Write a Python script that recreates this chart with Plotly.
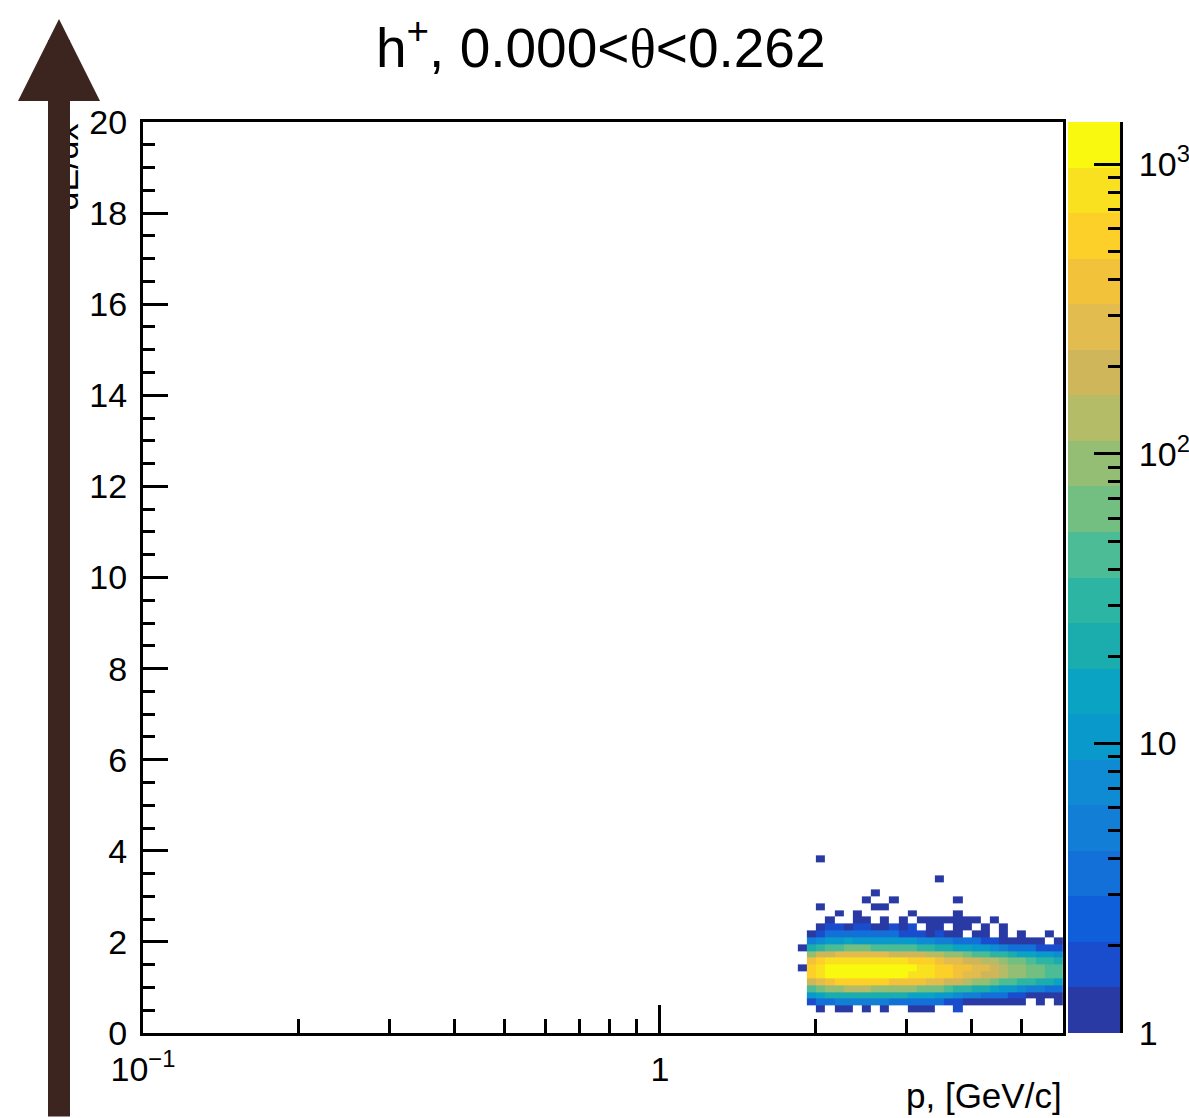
import numpy as np
import plotly.graph_objects as go

# ---------------- data ----------------
# momentum bin edges [GeV/c] (log-spaced histogram bins that carry entries)
p_edges = [1.848, 1.925, 2.005, 2.088, 2.175, 2.265, 2.359, 2.457, 2.559, 2.665,
           2.776, 2.892, 3.012, 3.137, 3.267, 3.403, 3.544, 3.691, 3.845, 4.005,
           4.171, 4.344, 4.525, 4.713, 4.909, 5.112, 5.325, 5.546, 5.777, 6.017]
# dE/dx bin edges
dedx_edges = [0.45, 0.60, 0.75, 0.90, 1.05, 1.20, 1.35, 1.50, 1.65, 1.80, 1.95, 2.10,
              2.25, 2.40, 2.55, 2.70, 2.85, 3.00, 3.15, 3.30, 3.45, 3.60, 3.75, 3.90]

# counts per momentum bin (each list runs over the dE/dx bins, bottom to top)
counts_by_p = [
    [0, 0, 0, 0, 0, 0, 1, 0, 0, 1, 0, 0, 0, 0, 0, 0, 0, 0, 0, 0, 0, 0, 0],
    [0, 2, 10, 47, 209, 522, 550, 341, 105, 22, 5, 1, 0, 0, 0, 0, 0, 0, 0, 0, 0, 0, 0],
    [1, 3, 15, 72, 323, 808, 850, 527, 162, 34, 8, 2, 1, 0, 0, 1, 0, 0, 0, 0, 0, 0, 1],
    [0, 4, 20, 94, 418, 1045, 1100, 682, 209, 44, 10, 3, 2, 1, 0, 0, 0, 0, 0, 0, 0, 0, 0],
    [1, 5, 23, 110, 494, 1235, 1300, 806, 247, 52, 12, 3, 2, 0, 1, 0, 0, 0, 0, 0, 0, 0, 0],
    [1, 6, 25, 119, 532, 1330, 1400, 868, 266, 56, 13, 4, 1, 0, 0, 0, 0, 0, 0, 0, 0, 0, 0],
    [0, 5, 25, 118, 528, 1320, 1390, 862, 264, 56, 12, 4, 2, 1, 1, 0, 0, 0, 0, 0, 0, 0, 0],
    [1, 5, 24, 115, 513, 1283, 1350, 837, 256, 54, 12, 3, 2, 1, 0, 0, 1, 0, 0, 0, 0, 0, 0],
    [0, 5, 23, 110, 494, 1235, 1300, 806, 247, 52, 11, 3, 1, 0, 0, 1, 0, 1, 0, 0, 0, 0, 0],
    [1, 5, 22, 106, 475, 1188, 1250, 775, 238, 50, 11, 3, 1, 1, 0, 1, 0, 0, 0, 0, 0, 0, 0],
    [0, 4, 22, 102, 456, 1140, 1200, 744, 228, 48, 11, 3, 2, 0, 0, 0, 1, 0, 0, 0, 0, 0, 0],
    [0, 4, 20, 94, 418, 1045, 1100, 682, 209, 44, 10, 2, 1, 1, 0, 0, 0, 0, 0, 0, 0, 0, 0],
    [1, 4, 18, 85, 380, 950, 1000, 620, 190, 40, 9, 2, 2, 0, 1, 0, 0, 0, 0, 0, 0, 0, 0],
    [1, 3, 16, 77, 342, 855, 900, 558, 171, 36, 8, 2, 0, 1, 0, 0, 0, 0, 0, 0, 0, 0, 0],
    [1, 3, 14, 68, 304, 760, 800, 496, 152, 32, 7, 1, 1, 1, 0, 0, 0, 0, 0, 0, 0, 0, 0],
    [0, 3, 12, 55, 247, 618, 650, 403, 124, 26, 6, 2, 1, 1, 0, 0, 0, 0, 0, 1, 0, 0, 0],
    [0, 2, 9, 44, 198, 494, 520, 322, 99, 21, 5, 1, 0, 1, 0, 0, 0, 0, 0, 0, 0, 0, 0],
    [2, 2, 8, 36, 160, 399, 420, 260, 80, 17, 4, 1, 1, 1, 1, 0, 1, 0, 0, 0, 0, 0, 0],
    [0, 1, 6, 28, 125, 314, 330, 205, 63, 13, 3, 0, 1, 1, 0, 0, 0, 0, 0, 0, 0, 0, 0],
    [0, 1, 5, 24, 106, 266, 280, 174, 53, 11, 3, 1, 0, 1, 0, 0, 0, 0, 0, 0, 0, 0, 0],
    [0, 1, 4, 20, 87, 219, 230, 143, 44, 9, 2, 1, 1, 0, 0, 0, 0, 0, 0, 0, 0, 0, 0],
    [0, 1, 3, 15, 68, 171, 180, 112, 34, 7, 2, 0, 0, 1, 0, 0, 0, 0, 0, 0, 0, 0, 0],
    [0, 1, 3, 12, 53, 133, 140, 87, 27, 6, 1, 1, 1, 0, 0, 0, 0, 0, 0, 0, 0, 0, 0],
    [0, 1, 2, 9, 42, 105, 110, 68, 21, 4, 1, 0, 0, 0, 0, 0, 0, 0, 0, 0, 0, 0, 0],
    [0, 1, 2, 8, 34, 86, 90, 56, 17, 4, 1, 1, 0, 0, 0, 0, 0, 0, 0, 0, 0, 0, 0],
    [0, 0, 1, 6, 29, 71, 75, 47, 14, 3, 1, 0, 0, 0, 0, 0, 0, 0, 0, 0, 0, 0, 0],
    [0, 1, 1, 5, 23, 57, 60, 37, 11, 2, 1, 0, 0, 0, 0, 0, 0, 0, 0, 0, 0, 0, 0],
    [0, 0, 1, 4, 19, 48, 50, 31, 10, 2, 0, 1, 0, 0, 0, 0, 0, 0, 0, 0, 0, 0, 0],
    [0, 1, 1, 4, 16, 40, 42, 26, 8, 2, 1, 0, 0, 0, 0, 0, 0, 0, 0, 0, 0, 0, 0],
]

z_max_count = 1400  # top of the colour scale

# axis tick labels
x_tickvals = [0.1, 1]
x_ticktext = ["10<sup>\u22121</sup>", "1"]
x_minor = [0.2, 0.3, 0.4, 0.5, 0.6, 0.7, 0.8, 0.9, 2, 3, 4, 5, 6]
z_tickvals = [1, 10, 100, 1000]
z_ticktext = ["1", "10", "10<sup>2</sup>", "10<sup>3</sup>"]

# palette (20 discrete bands, bottom to top)
band_colors = ["#2a3aa4", "#1a4dcd", "#0f5fda", "#1270d8", "#137ed6", "#0e8bd2",
               "#0a99cb", "#0aa3c3", "#1bacae", "#2cb5a3", "#4cbc96", "#72bf81",
               "#93be73", "#b4bc67", "#cfb65a", "#e2bc4e", "#f3c23b", "#fdd029",
               "#f9e11f", "#f8f90f"]

# ---------------- build ----------------
FONT = "Liberation Sans"
W, H = 1189, 1118
ML, MR, MT, MB = 143, 69, 122, 85
PW, PH = W - ML - MR, H - MT - MB


def px2x(px):
    return (px - ML) / PW


def py2y(py):
    return (H - MB - py) / PH


nb = len(band_colors)
colorscale = []
for i, c in enumerate(band_colors):
    colorscale.append([i / nb, c])
    colorscale.append([(i + 1) / nb, c])

ZMAX = np.log10(z_max_count)
counts = np.array(counts_by_p, dtype=float).T  # rows = dE/dx, cols = p
zlog = np.where(counts > 0, np.log10(np.where(counts > 0, counts, 1)), np.nan)

fig = go.Figure()
fig.add_trace(go.Heatmap(
    x=p_edges, y=dedx_edges, z=zlog, colorscale=colorscale, zmin=0, zmax=ZMAX,
    showscale=False, hoverinfo="skip", xaxis="x", yaxis="y"))

band_edges = np.linspace(0, ZMAX, nb + 1)
band_mid = (band_edges[:-1] + band_edges[1:]) / 2
fig.add_trace(go.Heatmap(
    x=[0, 1], y=band_edges, z=[[v] for v in band_mid], colorscale=colorscale,
    zmin=0, zmax=ZMAX, showscale=False, hoverinfo="skip", xaxis="x2", yaxis="y2"))

z_minor = [np.log10(k * 10 ** d) for d in range(3) for k in range(2, 10)
           if k * 10 ** d < z_max_count]

axis_common = dict(showgrid=False, zeroline=False, showline=True, linecolor="black",
                   linewidth=3, ticks="inside", tickcolor="black", tickwidth=3,
                   automargin=False,
                   tickfont=dict(family=FONT, size=34, color="black"))

fig.update_layout(
    width=W, height=H, margin=dict(l=ML, r=MR, t=MT, b=MB, pad=0, autoexpand=False),
    paper_bgcolor="white", plot_bgcolor="white", showlegend=False,
    xaxis=dict(type="log", range=[-1, np.log10(6.02)], domain=[0, px2x(1063)],
               anchor="y", mirror=True, tickmode="array", tickvals=x_tickvals,
               ticktext=x_ticktext, ticklen=28, ticklabelstandoff=4,
               minor=dict(tickmode="array", tickvals=x_minor, ticks="inside",
                          ticklen=14, tickwidth=3, tickcolor="black", showgrid=False),
               **axis_common),
    yaxis=dict(range=[0, 20], domain=[0, 1], anchor="x", mirror=True,
               tickmode="linear", tick0=0, dtick=2, ticklen=25, ticklabelstandoff=6,
               minor=dict(tickmode="linear", tick0=0, dtick=0.5, ticks="inside",
                          ticklen=12, tickwidth=3, tickcolor="black", showgrid=False),
               **axis_common),
    xaxis2=dict(domain=[px2x(1068), 1], range=[0, 1], anchor="y2", visible=False),
    yaxis2=dict(domain=[0, 1], range=[0, ZMAX], anchor="x2", side="right",
                tickmode="array", tickvals=list(np.log10(z_tickvals)),
                ticktext=z_ticktext, ticklen=26, ticklabelstandoff=9,
                minor=dict(tickmode="array", tickvals=z_minor, ticks="inside",
                           ticklen=12, tickwidth=3, tickcolor="black", showgrid=False),
                **axis_common),
)

annotations = [
    dict(text='h<sup>+</sup>, 0.000&lt;<span style="font-family:Liberation Serif">\u03b8</span>&lt;0.262',
         x=px2x(601), y=py2y(44), xref="paper", yref="paper", xanchor="center",
         yanchor="middle", showarrow=False,
         font=dict(family=FONT, size=55, color="black")),
    dict(text="p, [GeV/c]", x=px2x(1064), y=py2y(1095), xref="paper", yref="paper",
         xanchor="right", yanchor="middle", showarrow=False,
         font=dict(family=FONT, size=35, color="black")),
    dict(text="dE/dx", textangle=-90, x=px2x(65), y=1, xref="paper", yref="paper",
         xanchor="center", yanchor="top", showarrow=False,
         font=dict(family=FONT, size=34, color="black")),
    # big brown arrow drawn over the axis title
    dict(text="", x=px2x(59), y=py2y(19), xref="paper", yref="paper",
         ax=0, ay=1105, showarrow=True, arrowhead=2, arrowwidth=22,
         arrowsize=16.4 / 22, arrowcolor="#3d251f", standoff=0),
]
fig.update_layout(annotations=annotations)

fig.write_html("out.html")
